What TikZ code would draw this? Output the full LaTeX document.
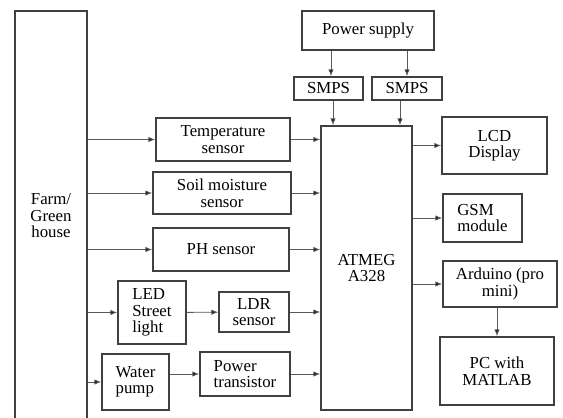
\documentclass[tikz,border=0pt]{standalone}
\usepackage{fontspec}
\setmainfont{Liberation Serif}
\usepackage{tikz}
\usetikzlibrary{positioning,arrows.meta}

\tikzset{
  blk/.style={draw=black!75,line width=1.4pt,inner sep=2pt,align=center,text=black},
  arr/.style={-{Latex[length=7pt,width=5.5pt,fill=black!90]},draw=black!65,line width=0.9pt}
}

\begin{document}
\begin{tikzpicture}[x=1pt,y=-1pt,font=\fontsize{16.8}{16.5}\selectfont]
\useasboundingbox (0,0) rectangle (563,418);
% left column
\node[blk,minimum width=72pt,minimum height=410pt] (farm) at (51,216) {Farm/\\Green\\house};
% sensors and loads
\node[blk,minimum width=134pt,minimum height=43pt] (temp) at (223,139.5) {Temperature\\sensor};
\node[blk,minimum width=138pt,minimum height=42pt] (soil) at (222,193) {Soil moisture\\sensor};
\node[blk,minimum width=136pt,minimum height=43pt] (ph) at (221,249.5) {PH sensor};
\node[blk,align=left,minimum width=68pt,minimum height=63pt] (led) at (152,312.5) {LED\\Street\\light};
\node[blk,minimum width=70pt,minimum height=40pt] (ldr) at (254,312) {LDR\\sensor};
\node[blk,align=left,minimum width=67pt,minimum height=56pt] (pump) at (135.5,382) {Water\\pump};
\node[blk,align=left,minimum width=90pt,minimum height=44pt] (trans) at (245,374) {Power\\transistor};
% controller and supply
\node[blk,minimum width=91pt,minimum height=284pt] (atmeg) at (366.5,268) {ATMEG\\A328};
\node[blk,minimum width=132pt,minimum height=39pt] (psu) at (368,30.5) {Power supply};
\node[blk,minimum width=69pt,minimum height=23pt] (smpsa) at (328.5,88.5) {SMPS};
\node[blk,minimum width=70pt,minimum height=23pt] (smpsb) at (407,88.5) {SMPS};
% outputs
\node[blk,minimum width=105pt,minimum height=57pt] (lcd) at (494.5,145.5) {LCD\\Display};
\node[blk,align=left,minimum width=79pt,minimum height=48pt] (gsm) at (482.5,218) {GSM\\module};
\node[blk,minimum width=114pt,minimum height=46pt] (ard) at (500,284) {Arduino (pro\\mini)};
\node[blk,minimum width=114pt,minimum height=68pt] (pc) at (497,371) {PC with\\MATLAB};

% farm to blocks
\foreach \b in {temp,soil,ph,led,pump}
  \draw[arr] (farm.east |- \b.west) -- (\b.west);
\draw[arr] (led) -- (ldr);
\draw[arr] (pump.east |- trans.west) -- (trans.west);
% blocks to controller
\foreach \b in {temp,soil,ph,ldr,trans}
  \draw[arr] (\b.east) -- (\b.east -| atmeg.west);
% supply
\draw[arr] ([xshift=-37]psu.south) -- ([xshift=2.5]smpsa.north);
\draw[arr] ([xshift=39]psu.south) -- (smpsb.north);
\draw[arr] ([xshift=4.5]smpsa.south) -- ([xshift=4.5]smpsa.south |- atmeg.north);
\draw[arr] ([xshift=-7]smpsb.south) -- ([xshift=-7]smpsb.south |- atmeg.north);
% controller to outputs
\foreach \b in {lcd,gsm,ard}
  \draw[arr] (atmeg.east |- \b.west) -- (\b.west);
\draw[arr] (ard.south -| pc.north) -- (pc.north);
\end{tikzpicture}
\end{document}
